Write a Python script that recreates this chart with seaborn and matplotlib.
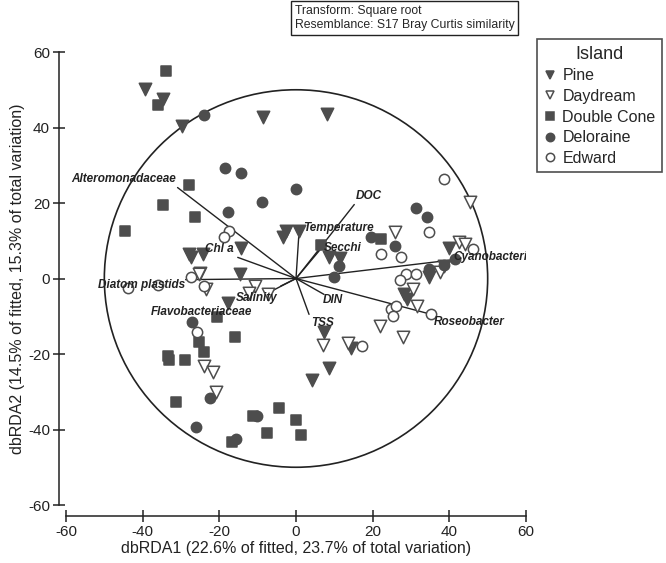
import numpy as np
import pandas as pd
import matplotlib
matplotlib.use('Agg')
import matplotlib.pyplot as plt
from matplotlib.patches import Circle
from matplotlib.lines import Line2D
import seaborn as sns

# sample scores on dbRDA1 / dbRDA2
pine_x = [-39.3, -34.6, -29.8, -8.6, 8.1, -2.6, -3.4, 0.8, -14.4, -14.7, -17.8, -28.0, -24.3, -27.5,
          8.6, 11.5, 39.8, 38.5, 34.8, 28.3, 29.0, 7.3, 14.4, 8.6, 4.2, -25.0]
pine_y = [50.1, 47.5, 40.3, 42.7, 43.5, 12.5, 10.9, 12.5, 8.2, 1.1, -6.4, 6.4, 6.4, 5.6,
          5.8, 5.5, 8.2, 3.4, 0.3, -4.2, -5.5, -14.3, -18.3, -23.6, -26.8, 1.5]

daydream_x = [45.3, 25.7, 42.4, 44.0, 37.6, 30.4, 31.6, 21.9, 28.0, 7.1, 13.6, -10.8, -7.3, -12.3,
              -24.0, -21.7, -20.9, -25.3, -23.6]
daydream_y = [20.4, 12.2, 9.8, 9.2, 1.8, -2.9, -7.4, -12.6, -15.6, -17.5, -17.0, -2.1, -4.0, -3.8,
              -23.3, -24.7, -30.0, 1.3, -2.9]

dcone_x = [-33.8, -36.1, -28.0, -34.6, -26.4, -44.5, -20.6, -16.0, -25.4, -24.0, -33.5, -33.2, -29.0,
           -31.4, -11.3, -4.5, 0.0, -7.6, -16.8, 1.2, 6.5, 22.3]
dcone_y = [54.9, 45.9, 24.7, 19.6, 16.2, 12.5, -10.1, -15.6, -16.7, -19.4, -20.4, -21.7, -21.5,
           -32.6, -36.3, -34.2, -37.6, -40.8, -43.2, -41.4, 9.0, 10.6]

delo_x = [-24.1, -18.6, -14.4, -8.8, -17.8, 0.0, 31.4, 34.3, 19.6, 25.7, 41.4, 38.7, 34.6,
          11.3, 9.9, -27.2, -22.5, -26.2, -10.2, -15.7]
delo_y = [43.2, 29.4, 27.9, 20.4, 17.5, 23.6, 18.8, 16.4, 10.9, 8.5, 5.3, 3.7, 2.4,
          3.2, 0.5, -11.4, -31.6, -39.3, -36.3, -42.4]

edward_x = [38.5, 34.6, 22.1, 27.5, 46.1, 28.8, 31.4, 27.2, 24.9, 26.2, 25.4, 35.3, 17.3,
            -25.7, -17.5, -18.8, -43.7, -36.1, -27.5, -24.0]
edward_y = [26.3, 12.2, 6.6, 5.8, 7.8, 1.1, 1.1, -0.3, -8.2, -7.4, -9.9, -9.5, -18.0,
            -14.1, 12.5, 10.9, -2.4, -1.6, 0.5, -2.1]

# vector overlay (end points) and labels
vec_names = ['Alteromonadaceae', 'Chl a', 'Temperature', 'DOC', 'Secchi', 'Cyanobacteria',
             'Roseobacter', 'DIN', 'TSS', 'Salinity', 'Flavobacteriaceae', 'Diatom plastids']
vec_x = [-30.9, -15.2, 0.8, 15.2, 7.0, 41.4, 35.3, 7.3, 3.4, -6.5, -4.0, -28.8]
vec_y = [24.1, 5.6, 12.5, 19.6, 8.5, 5.0, -9.5, -4.2, -9.5, -3.4, -2.0, -0.3]
lab_x = [-31.3, -16.3, 2.0, 15.7, 7.3, 41.1, 35.9, 7.1, 3.9, -15.7, -11.5, -28.8]
lab_y = [26.3, 7.7, 13.5, 21.8, 8.2, 5.6, -11.4, -5.6, -11.7, -5.2, -9.0, -1.6]
lab_ha = ['right', 'right', 'left', 'left', 'left', 'left', 'left', 'left', 'left', 'left', 'right', 'right']

islands = ['Pine', 'Daydream', 'Double Cone', 'Deloraine', 'Edward']

sns.set_style('white')
plt.rcParams['font.family'] = ['Liberation Sans', 'DejaVu Sans']
plt.rcParams['axes.unicode_minus'] = False

dark = '#4d4d4d'
ink = '#222222'
fig = plt.figure(figsize=(6.66, 5.63), dpi=100)
ax = fig.add_axes([0.0991, 0.103, 0.6907, 0.8046])

ax.add_patch(Circle((0, 0), 50, fill=False, ec=ink, lw=1.2, zorder=1))

for i, name in enumerate(vec_names):
    ax.plot([0, vec_x[i]], [0, vec_y[i]], color=ink, lw=1.0, zorder=2)
    ax.text(lab_x[i], lab_y[i], name, ha=lab_ha[i], va='center', fontsize=8.5,
            fontweight='bold', fontstyle='italic', color=ink, zorder=5, clip_on=True)

styles = {
    'Pine': dict(x=pine_x, y=pine_y, marker='v', s=80, color=dark),
    'Daydream': dict(x=daydream_x, y=daydream_y, marker='v', s=80, color='white'),
    'Double Cone': dict(x=dcone_x, y=dcone_y, marker='s', s=55, color=dark),
    'Deloraine': dict(x=delo_x, y=delo_y, marker='o', s=55, color=dark),
    'Edward': dict(x=edward_x, y=edward_y, marker='o', s=55, color='white'),
}
for isl in islands:
    st = styles[isl]
    sns.scatterplot(x=st['x'], y=st['y'], marker=st['marker'], s=st['s'], color=st['color'],
                    edgecolor=dark, linewidth=1.1, ax=ax, zorder=3)

ax.set_xlim(-60, 60)
ax.set_ylim(-60, 60)
ax.set_xticks(np.arange(-60, 61, 20))
ax.set_yticks(np.arange(-60, 61, 20))
ax.tick_params(bottom=True, left=True, direction='inout', length=9, width=1.1,
               labelsize=11, colors=ink, pad=2)
sns.despine(ax=ax, offset={'left': 5, 'bottom': 8})
for sp in ['left', 'bottom']:
    ax.spines[sp].set_color(ink)
    ax.spines[sp].set_linewidth(1.1)
ax.set_xlabel('dbRDA1 (22.6% of fitted, 23.7% of total variation)', fontsize=11.5, color=ink,
              labelpad=1)
ax.set_ylabel('dbRDA2 (14.5% of fitted, 15.3% of total variation)', fontsize=11.5, color=ink,
              labelpad=2)

handles = []
for isl in islands:
    st = styles[isl]
    handles.append(Line2D([], [], ls='', marker=st['marker'], markersize=6,
                          markerfacecolor=st['color'], markeredgecolor=dark, markeredgewidth=1.1))
leg = fig.legend(handles, islands, title='Island', loc='upper left', bbox_to_anchor=(0.806, 0.93),
                 fontsize=11.5, title_fontsize=13, frameon=True, fancybox=False, handlelength=0.8,
                 handletextpad=0.4, borderpad=0.4, labelspacing=0.35, borderaxespad=0)
leg.get_frame().set_edgecolor(ink)
leg.get_frame().set_linewidth(1.2)

fig.text(0.443, 0.968, 'Transform: Square root\nResemblance: S17 Bray Curtis similarity',
         ha='left', va='center', fontsize=8.8, linespacing=1.3,
         bbox=dict(boxstyle='square,pad=0.3', fc='white', ec=ink, lw=1.0))

fig.savefig('out.png', dpi=100)
